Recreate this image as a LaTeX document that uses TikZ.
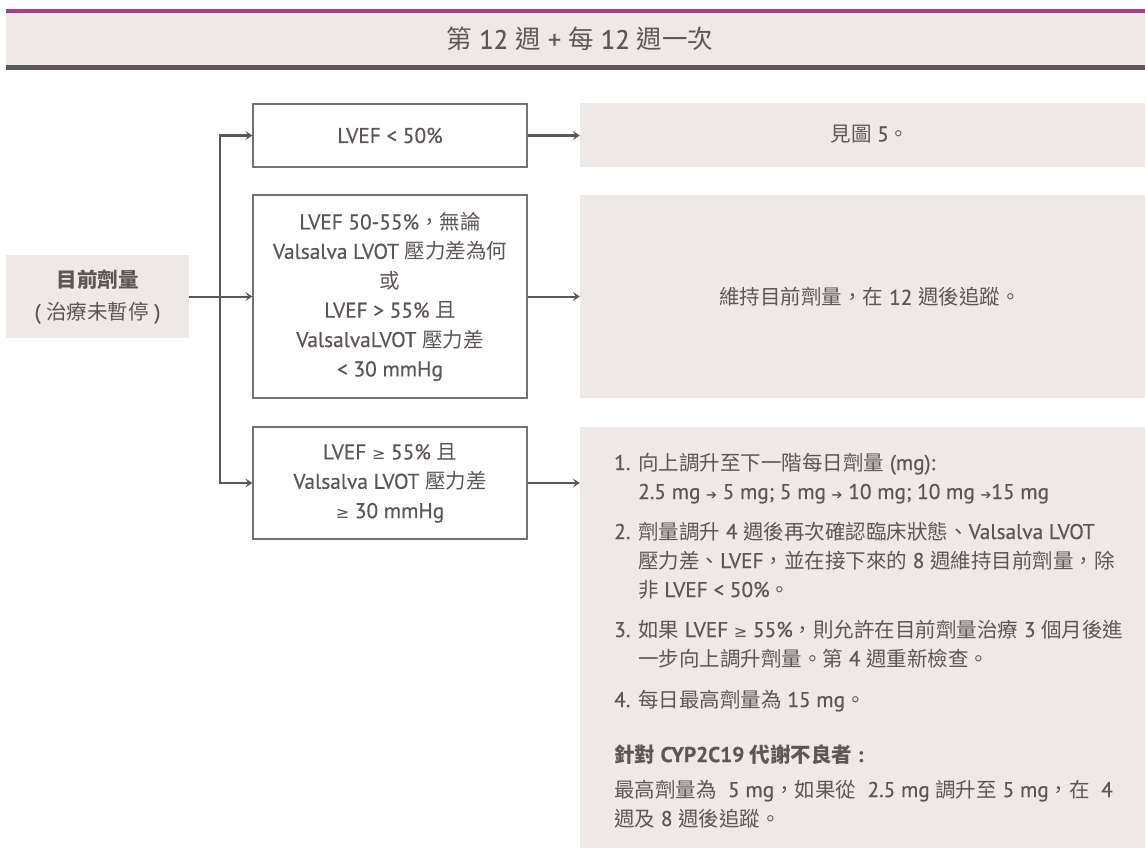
\documentclass[tikz,border=0pt]{standalone}
\usepackage{fontspec}
\setmainfont{PT Sans}[Scale=1.04, FakeBold=0.5]
\newfontfamily\cjkf{Noto Sans CJK TC}[Script=CJK, Language=Chinese Traditional]
\newfontfamily\symfont{DejaVu Sans}
\usetikzlibrary{arrows.meta}
\definecolor{beige}{HTML}{EEE9E6}
\definecolor{purp}{HTML}{AC3F8D}
\definecolor{darkbar}{HTML}{5D5856}
\definecolor{txt}{HTML}{5C5654}
\definecolor{boxline}{HTML}{77716F}
\newcommand{\gesym}{{\symfont\fontsize{16}{16}\selectfont ≥}}
\newcommand{\rarr}{{\symfont\fontsize{13}{13}\selectfont ➔}}
% automatic switch between Latin (PT Sans) and CJK (Noto Sans CJK TC)
\newXeTeXintercharclass\CJKcls
\newcount\mycnt
\def\mysetrange#1#2{\mycnt=#1\relax
  \loop\XeTeXcharclass\mycnt=\CJKcls\relax\advance\mycnt by 1\relax
  \ifnum\mycnt<#2\relax\repeat}
\mysetrange{"3000}{"A000}
\mysetrange{"FF00}{"FFF0}
\XeTeXinterchartoks 0 \CJKcls = {\cjkf}
\XeTeXinterchartoks 4095 \CJKcls = {\cjkf}
\XeTeXinterchartoks \CJKcls 0 = {\rmfamily}
\XeTeXinterchartoks \CJKcls 4095 = {\rmfamily}
\XeTeXinterchartokenstate=1
\begin{document}
\begin{tikzpicture}[x=1pt,y=-1pt,
  tip/.tip={Stealth[length=7pt,width=9pt,inset=3pt]},
  conn/.style={draw=darkbar, line width=2pt, -tip},
  body/.style={font=\fontsize{20.5}{29.4}\selectfont, text=txt},
  cbox/.style={draw=boxline, line width=1.3pt, minimum width=274pt, inner sep=0pt, body, align=center},
  panel/.style={fill=beige, draw=none, minimum width=565pt, inner sep=0pt},
  ptext/.style={body, align=center, inner sep=0pt},
  ln/.style={body, anchor=base west, inner sep=0pt}
]
\useasboundingbox (0,0) rectangle (1145,848);
% header
\fill[purp] (6,9) rectangle (1145,13);
\fill[beige] (6,13) rectangle (1145,65);
\fill[darkbar] (6,65) rectangle (1145,70);
\node[font=\fontsize{25.5}{30}\selectfont, text=darkbar] (title) at (580,39) {第 12 週 + 每 12 週一次};

% start box
\node[fill=beige, minimum width=183pt, minimum height=83pt, inner sep=0pt, align=center,
      text=txt, font=\fontsize{20.5}{32}\selectfont] (start) at (97.5,296.5)
      {\textbf{目前劑量}\\( 治療未暫停 )};

% condition boxes
\node[cbox, minimum height=63pt] (b1) at (390,135.5) {LVEF < 50\%};
\node[cbox, minimum height=203pt] (b2) at (390,296.5)
  {LVEF 50-55\%，無論\\Valsalva LVOT 壓力差為何\\或\\LVEF > 55\% 且\\ValsalvaLVOT 壓力差\\< 30 mmHg};
\node[cbox, minimum height=112pt] (b3) at (390,483)
  {LVEF \gesym{} 55\% 且\\Valsalva LVOT 壓力差\\\gesym{} 30 mmHg};

% panels
\node[panel, minimum height=64pt] (p1) at (862.5,135) {};
\node[panel, minimum height=203pt] (p2) at (862.5,296.5) {};
\node[panel, minimum height=421pt] (p3) at (862.5,637.5) {};
\node[ptext] (p1t) at (870,134) {見圖 5。};
\node[ptext] (p2t) at (870,297) {維持目前劑量，在 12 週後追蹤。};

% panel 3 text
\node[ln] (n1) at (614,470) {1.};
\node[ln] (t1a) at (638,470) {向上調升至下一階每日劑量 (mg):};
\node[ln] (t1b) at (638,499) {2.5 mg \rarr{} 5 mg; 5 mg \rarr{} 10 mg; 10 mg \rarr{}15 mg};
\node[ln] (n2) at (614,539) {2.};
\node[ln] (t2a) at (638,539) {劑量調升 4 週後再次確認臨床狀態、Valsalva LVOT};
\node[ln] (t2b) at (638,568) {壓力差、LVEF，並在接下來的 8 週維持目前劑量，除};
\node[ln] (t2c) at (638,597) {非 LVEF < 50\%。};
\node[ln] (n3) at (614,637) {3.};
\node[ln] (t3a) at (638,637) {如果 LVEF \gesym{} 55\%，則允許在目前劑量治療 3 個月後進};
\node[ln] (t3b) at (638,666) {一步向上調升劑量。第 4 週重新檢查。};
\node[ln] (n4) at (614,707) {4.};
\node[ln] (t4) at (638,707) {每日最高劑量為 15 mg。};
\node[ln, font=\fontsize{20.5}{29.4}\selectfont\bfseries] (cyp) at (614,762) {針對 CYP2C19 代謝不良者 :};
\node[ln] (cypa) at (614,797) {最高劑量為\ \ 5 mg，如果從\ \ 2.5 mg 調升至 5 mg，在\ \ 4};
\node[ln] (cypb) at (614,826) {週及 8 週後追蹤。};

% connectors
\coordinate (t) at (220,296.5);
\draw[darkbar, line width=2pt, tip-tip, line join=miter]
  (b1.west) -- (t |- b1.west) -- (t |- b3.west) -- (b3.west);
\draw[conn] (start.east) -- (b2.west);
\draw[conn] (b1.east) -- (b1.east -| p1.west);
\draw[conn] (b2.east) -- (b2.east -| p2.west);
\draw[conn] (b3.east) -- (b3.east -| p3.west);
\end{tikzpicture}
\end{document}
